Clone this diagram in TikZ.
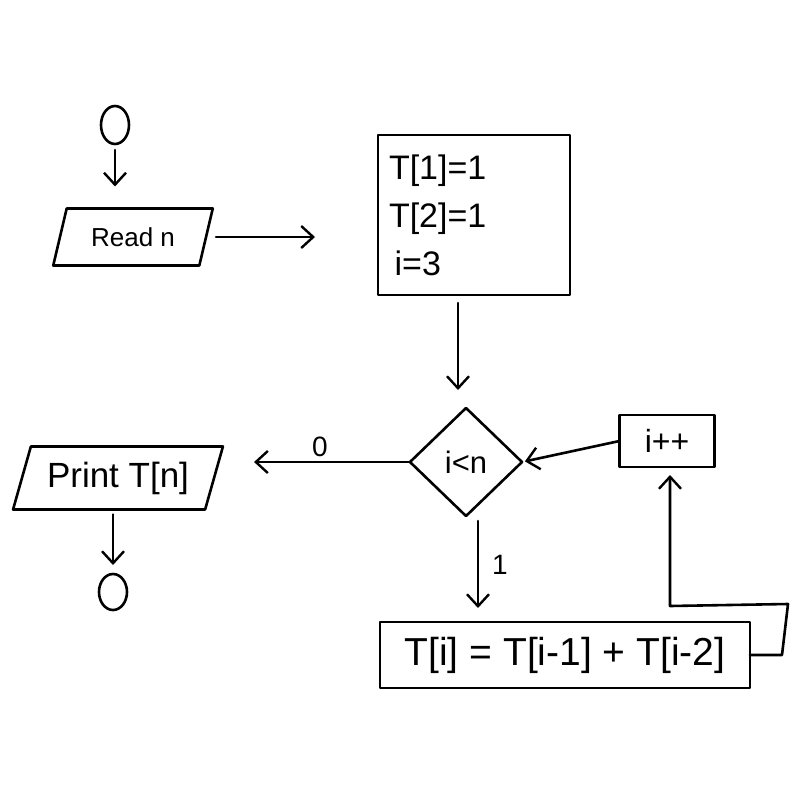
\documentclass[tikz,border=0pt]{standalone}
\usepackage{fontspec}
\setmainfont{Liberation Sans}
\usetikzlibrary{shapes.geometric,arrows.meta}
\begin{document}
\begin{tikzpicture}[x=1pt,y=-1pt,
  every node/.style={inner sep=0pt,outer sep=0pt},
  ink/.style={line width=2.6pt,line cap=round,line join=round},
  flow/.style={ink,-{Straight Barb[length=12pt,width=22pt,line width=2.4pt]}},
  term/.style={ink,draw,ellipse,minimum width=28,minimum height=38},
  io/.style={ink,draw,trapezium,trapezium left angle=66,trapezium right angle=114,
             trapezium stretches=true},
  proc/.style={ink,draw,rectangle},
  cond/.style={ink,draw,diamond,minimum width=112,minimum height=108},
  lbl/.style={font=\fontsize{28}{32}\selectfont}]
\useasboundingbox (0,0) rectangle (800,800);
\node[term] (start) at (115,125) {};
\node[io,minimum width=160,minimum height=57,font=\fontsize{26}{30}\selectfont] (read) at (133,237) {Read n};
\node[proc,minimum width=192,minimum height=160,align=left,text width=170,
      font=\fontsize{34}{48}\selectfont] (init) at (474,215) {T[1]=1\\T[2]=1\\\,i=3};
\node[cond,font=\fontsize{31}{34}\selectfont] (dia) at (466,462) {i<n};
\node[proc,minimum width=95,minimum height=52,font=\fontsize{32}{36}\selectfont] (inc) at (667,441) {i++};
\node[io,minimum width=210,minimum height=63,font=\fontsize{35}{38}\selectfont] (print) at (118,478) {Print T[n]};
\node[term,minimum height=36] (end) at (113,592) {};
\node[proc,minimum width=370,minimum height=66,font=\fontsize{39}{44}\selectfont] (calc) at (565,655) {T[i] = T[i-1] + T[i-2]};
\node[lbl] (l0) at (320,447) {0};
\node[lbl] (l1) at (500,565) {1};
\coordinate (c1) at (782,655);
\coordinate (c2) at (788,604);
\coordinate (c3) at (670,606);
% connectors
\draw[flow,shorten <=6pt,shorten >=22pt] (start.south) -- (start.south |- read.north);
\draw[flow,shorten <=10pt,shorten >=63pt] (read.east) -- (read.east -| init.west);
\draw[flow,shorten <=8pt,shorten >=18pt] ([xshift=-16]init.south) -- ([xshift=-16]init.south |- dia.north);
\draw[flow,shorten >=40pt] (dia.west) -- (dia.west -| print.east);
\draw[flow,shorten <=5pt,shorten >=9pt] (print.south -| end) -- (end);
\draw[flow,shorten <=5pt,shorten >=14pt] ([xshift=12]dia.south) -- ([xshift=12]dia.south |- calc.north);
\draw[flow,shorten >=3pt] (inc.west) -- (dia.east);
\draw[flow,shorten >=8pt] (calc.east) -- (c1) -- (c2) -- (c3) -- (c3 |- inc.south);
\end{tikzpicture}
\end{document}
